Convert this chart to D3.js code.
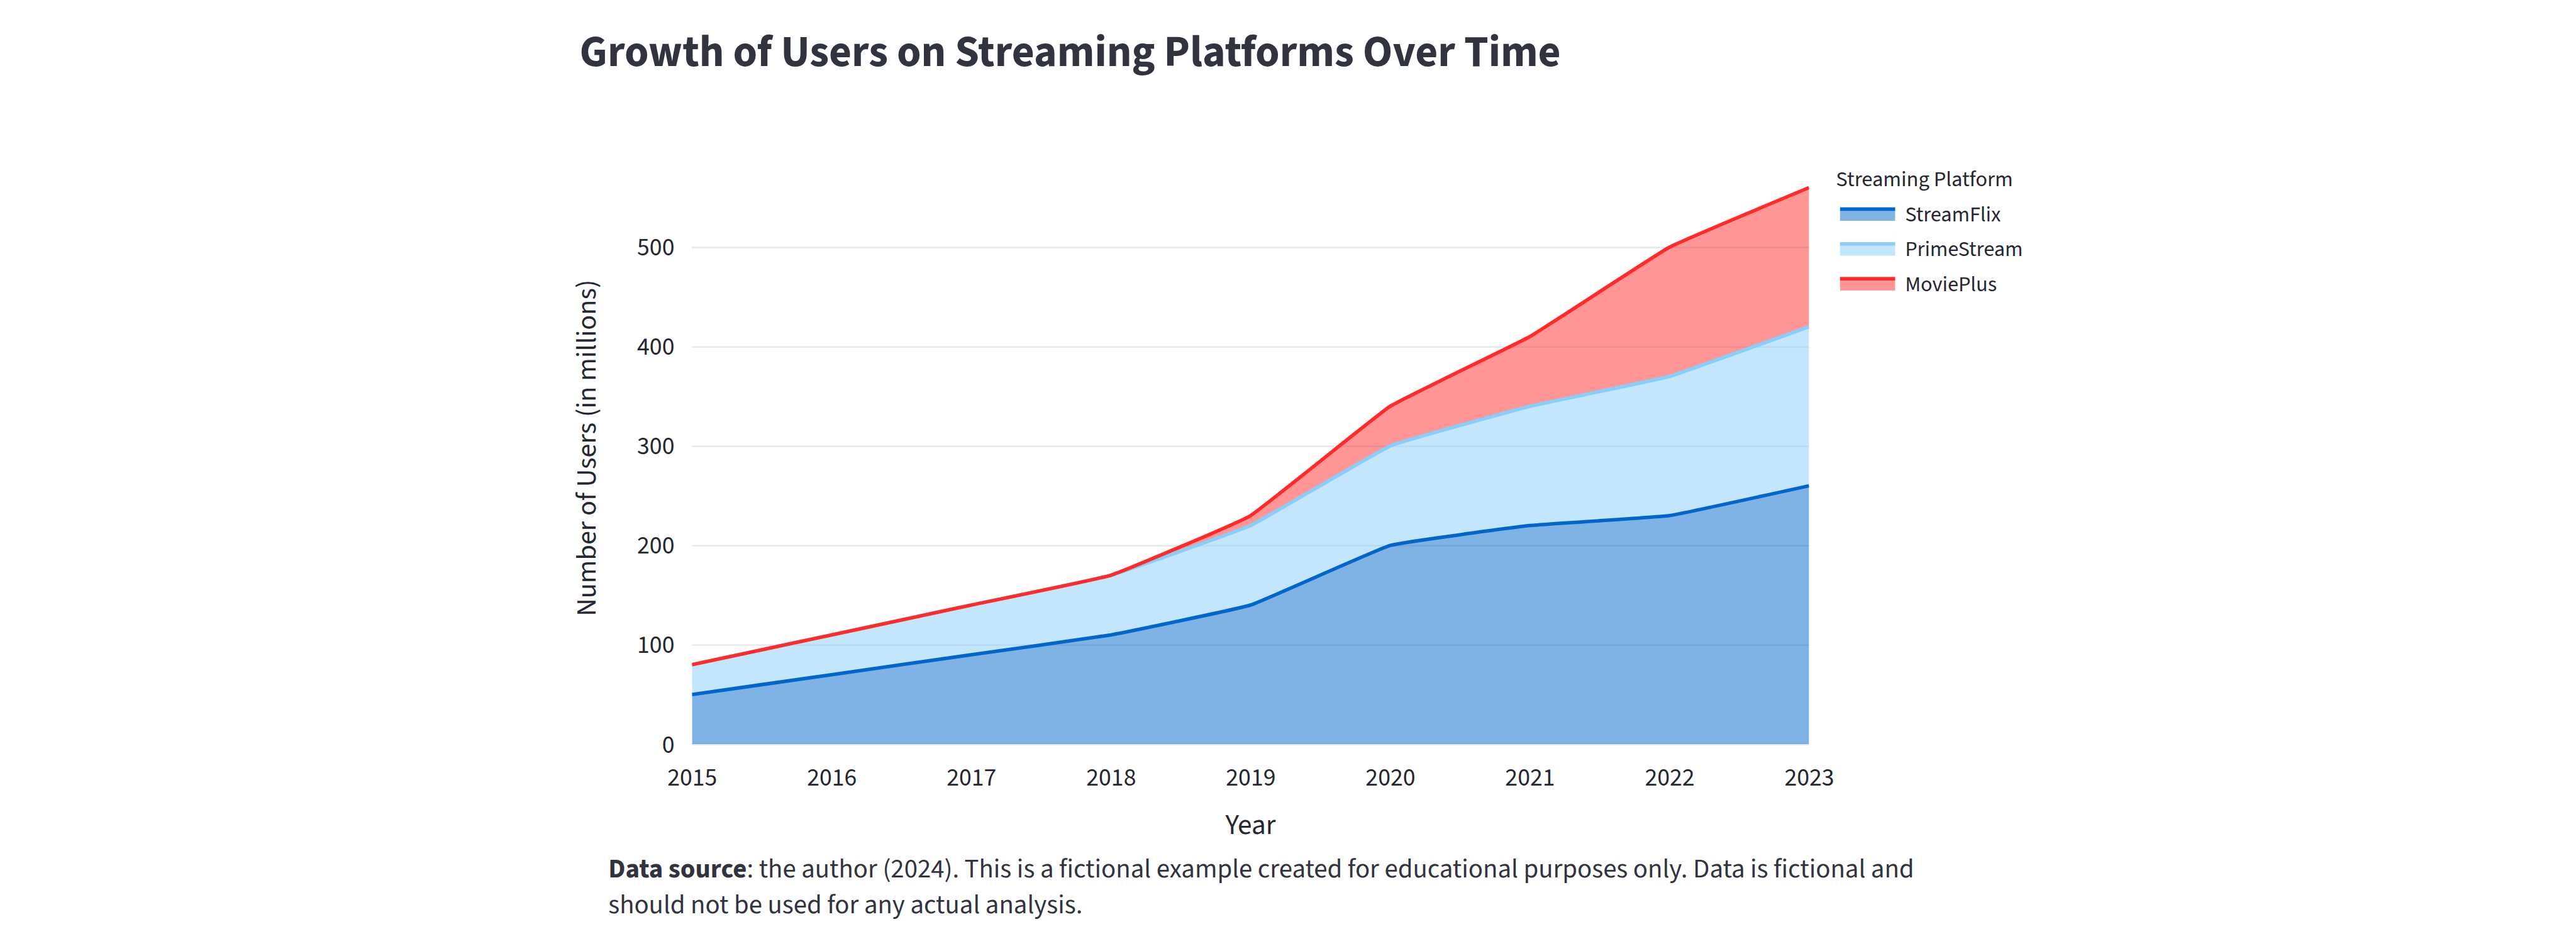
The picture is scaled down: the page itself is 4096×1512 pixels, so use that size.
<!DOCTYPE html>
<html>
<head>
<meta charset="utf-8">
<script src="https://cdn.jsdelivr.net/npm/d3@7"></script>
<style>
  html, body { margin: 0; padding: 0; background: #ffffff; }
  svg { display: block; }
</style>
</head>
<body>
<svg id="chart"></svg>
<script>
// ---------------- DATA ----------------
const years = [2015, 2016, 2017, 2018, 2019, 2020, 2021, 2022, 2023];
const streamFlix = [50, 70, 90, 110, 140, 200, 220, 230, 260];
const primeStream = [30, 40, 50, 60, 80, 100, 120, 140, 160];
const moviePlus = [0, 0, 0, 0, 10, 40, 70, 130, 140];
const seriesNames = ["StreamFlix", "PrimeStream", "MoviePlus"];
const seriesColors = ["#0066CC", "#87CEFA", "#FF2B2B"];
const yTickValues = [0, 100, 200, 300, 400, 500];
const titleText = "Growth of Users on Streaming Platforms Over Time";
const xTitleText = "Year";
const yTitleText = "Number of Users (in millions)";
const legendTitleText = "Streaming Platform";
const noteBold = "Data source";
const noteLine1 = ": the author (2024). This is a fictional example created for educational purposes only. Data is fictional and";
const noteLine2 = "should not be used for any actual analysis.";

// ---------------- LAYOUT (reference pixel space) ----------------
const W = 4400, H = 1624;
const FONT = "'Source Sans Pro', 'Source Sans 3', Lato, 'Noto Sans', sans-serif";
const textColor = "#31333F";
const tickColor = "#262730";
const plot = { left: 1182, right: 3090, top: 271, bottom: 1271 };

const svg = d3.select("#chart")
  .attr("width", 4096).attr("height", 1512)
  .attr("viewBox", `0 0 ${W} ${H}`)
  .style("font-family", FONT);

svg.append("rect").attr("width", W).attr("height", H).attr("fill", "#fff");

function fit(sel, target) {
  const fs = parseFloat(sel.attr("font-size"));
  const w = sel.node().getComputedTextLength();
  if (w > 0) sel.attr("font-size", fs * target / w);
  return fs * target / w;
}

// table rows
const rows = years.map((yr, i) => ({
  year: yr,
  StreamFlix: streamFlix[i],
  PrimeStream: primeStream[i],
  MoviePlus: moviePlus[i]
}));
const stacked = d3.stack().keys(seriesNames)(rows);

const x = d3.scaleLinear().domain([2015, 2023]).range([plot.left, plot.right]);
const y = d3.scaleLinear().domain([0, 589]).range([plot.bottom, plot.top]);

// ---------------- TITLE ----------------
const title = svg.append("text")
  .attr("x", 990).attr("y", 113)
  .attr("font-size", 72).attr("font-weight", 700)
  .attr("fill", textColor)
  .text(titleText);
fit(title, 1676);

// ---------------- GRID + Y AXIS ----------------
const yAxis = svg.append("g")
  .attr("transform", `translate(${plot.left},0)`)
  .call(d3.axisLeft(y).tickValues(yTickValues)
    .tickSize(-(plot.right - plot.left)).tickPadding(30).tickFormat(d3.format("d")));
yAxis.select(".domain").remove();
yAxis.selectAll(".tick line").attr("stroke", "#E6EAF1").attr("stroke-width", 3);
yAxis.selectAll(".tick text").attr("fill", tickColor).attr("font-family", FONT);

// ---------------- X AXIS ----------------
const xAxis = svg.append("g")
  .attr("transform", `translate(0,${plot.bottom})`)
  .call(d3.axisBottom(x).tickValues(years).tickSize(0).tickPadding(40).tickFormat(d3.format("d")));
xAxis.select(".domain").remove();
xAxis.selectAll(".tick text").attr("fill", tickColor).attr("font-family", FONT);

const probe = svg.append("text").attr("font-size", 42).text("2015");
const tickFs = fit(probe, 85);
probe.remove();
yAxis.attr("font-size", tickFs);
xAxis.attr("font-size", tickFs);

// ---------------- AREAS ----------------
svg.append("clipPath").attr("id", "plotclip")
  .append("rect")
  .attr("x", plot.left).attr("y", plot.top - 20)
  .attr("width", plot.right - plot.left).attr("height", plot.bottom - plot.top + 20);

const curve = d3.curveCardinal.tension(0.75);
const area = d3.area().curve(curve)
  .x(d => x(d.data.year)).y0(d => y(d[0])).y1(d => y(d[1]));
const line = d3.line().curve(curve)
  .x(d => x(d.data.year)).y(d => y(d[1]));

const g = svg.append("g").attr("clip-path", "url(#plotclip)");
g.selectAll("path.area").data(stacked).join("path")
  .attr("class", "area")
  .attr("d", area)
  .attr("fill", (d, i) => seriesColors[i])
  .attr("fill-opacity", 0.5);
g.selectAll("path.line").data(stacked).join("path")
  .attr("class", "line")
  .attr("d", line)
  .attr("fill", "none")
  .attr("stroke", (d, i) => seriesColors[i])
  .attr("stroke-width", 6)
  .attr("stroke-linejoin", "round");

// ---------------- AXIS TITLES ----------------
const xTitle = svg.append("text")
  .attr("x", (plot.left + plot.right) / 2).attr("y", 1424)
  .attr("text-anchor", "middle")
  .attr("font-size", 45).attr("fill", tickColor)
  .text(xTitleText);
fit(xTitle, 86);

const yTitle = svg.append("text")
  .attr("transform", `translate(1017,${(plot.top + plot.bottom) / 2 - 6}) rotate(-90)`)
  .attr("text-anchor", "middle")
  .attr("font-size", 45).attr("fill", tickColor)
  .text(yTitleText);
fit(yTitle, 575);

// ---------------- LEGEND ----------------
const legTitle = svg.append("text")
  .attr("x", 3136).attr("y", 318)
  .attr("font-size", 36).attr("fill", tickColor)
  .text(legendTitleText);
fit(legTitle, 302);

const legY = d3.scalePoint().domain(seriesNames).range([366, 485]);
const items = svg.append("g").selectAll("g").data(seriesNames).join("g")
  .attr("transform", d => `translate(3143,${legY(d)})`);
items.append("rect")
  .attr("x", 0).attr("y", -12).attr("width", 94).attr("height", 23)
  .attr("fill", (d, i) => seriesColors[i]).attr("fill-opacity", 0.5);
items.append("line")
  .attr("x1", 0).attr("x2", 94).attr("y1", -9).attr("y2", -9)
  .attr("stroke", (d, i) => seriesColors[i]).attr("stroke-width", 6);
const itemTexts = items.append("text")
  .attr("x", 111).attr("y", 12)
  .attr("font-size", 36).attr("fill", tickColor)
  .text(d => d);
const legProbe = svg.append("text").attr("font-size", 36).text("PrimeStream");
const legFs = fit(legProbe, 201);
legProbe.remove();
itemTexts.attr("font-size", legFs);

// ---------------- NOTE ----------------
const noteProbe = svg.append("text").attr("font-size", 42);
noteProbe.append("tspan").attr("font-weight", 700).text(noteBold);
noteProbe.append("tspan").text(noteLine1);
const noteFs = fit(noteProbe, 2230);
noteProbe.remove();

const note = svg.append("text")
  .attr("x", 1039).attr("y", 1498)
  .attr("font-size", noteFs).attr("fill", textColor);
note.append("tspan").attr("font-weight", 700).text(noteBold);
note.append("tspan").text(noteLine1);
svg.append("text")
  .attr("x", 1039).attr("y", 1560)
  .attr("font-size", noteFs).attr("fill", textColor)
  .text(noteLine2);
</script>
</body>
</html>
